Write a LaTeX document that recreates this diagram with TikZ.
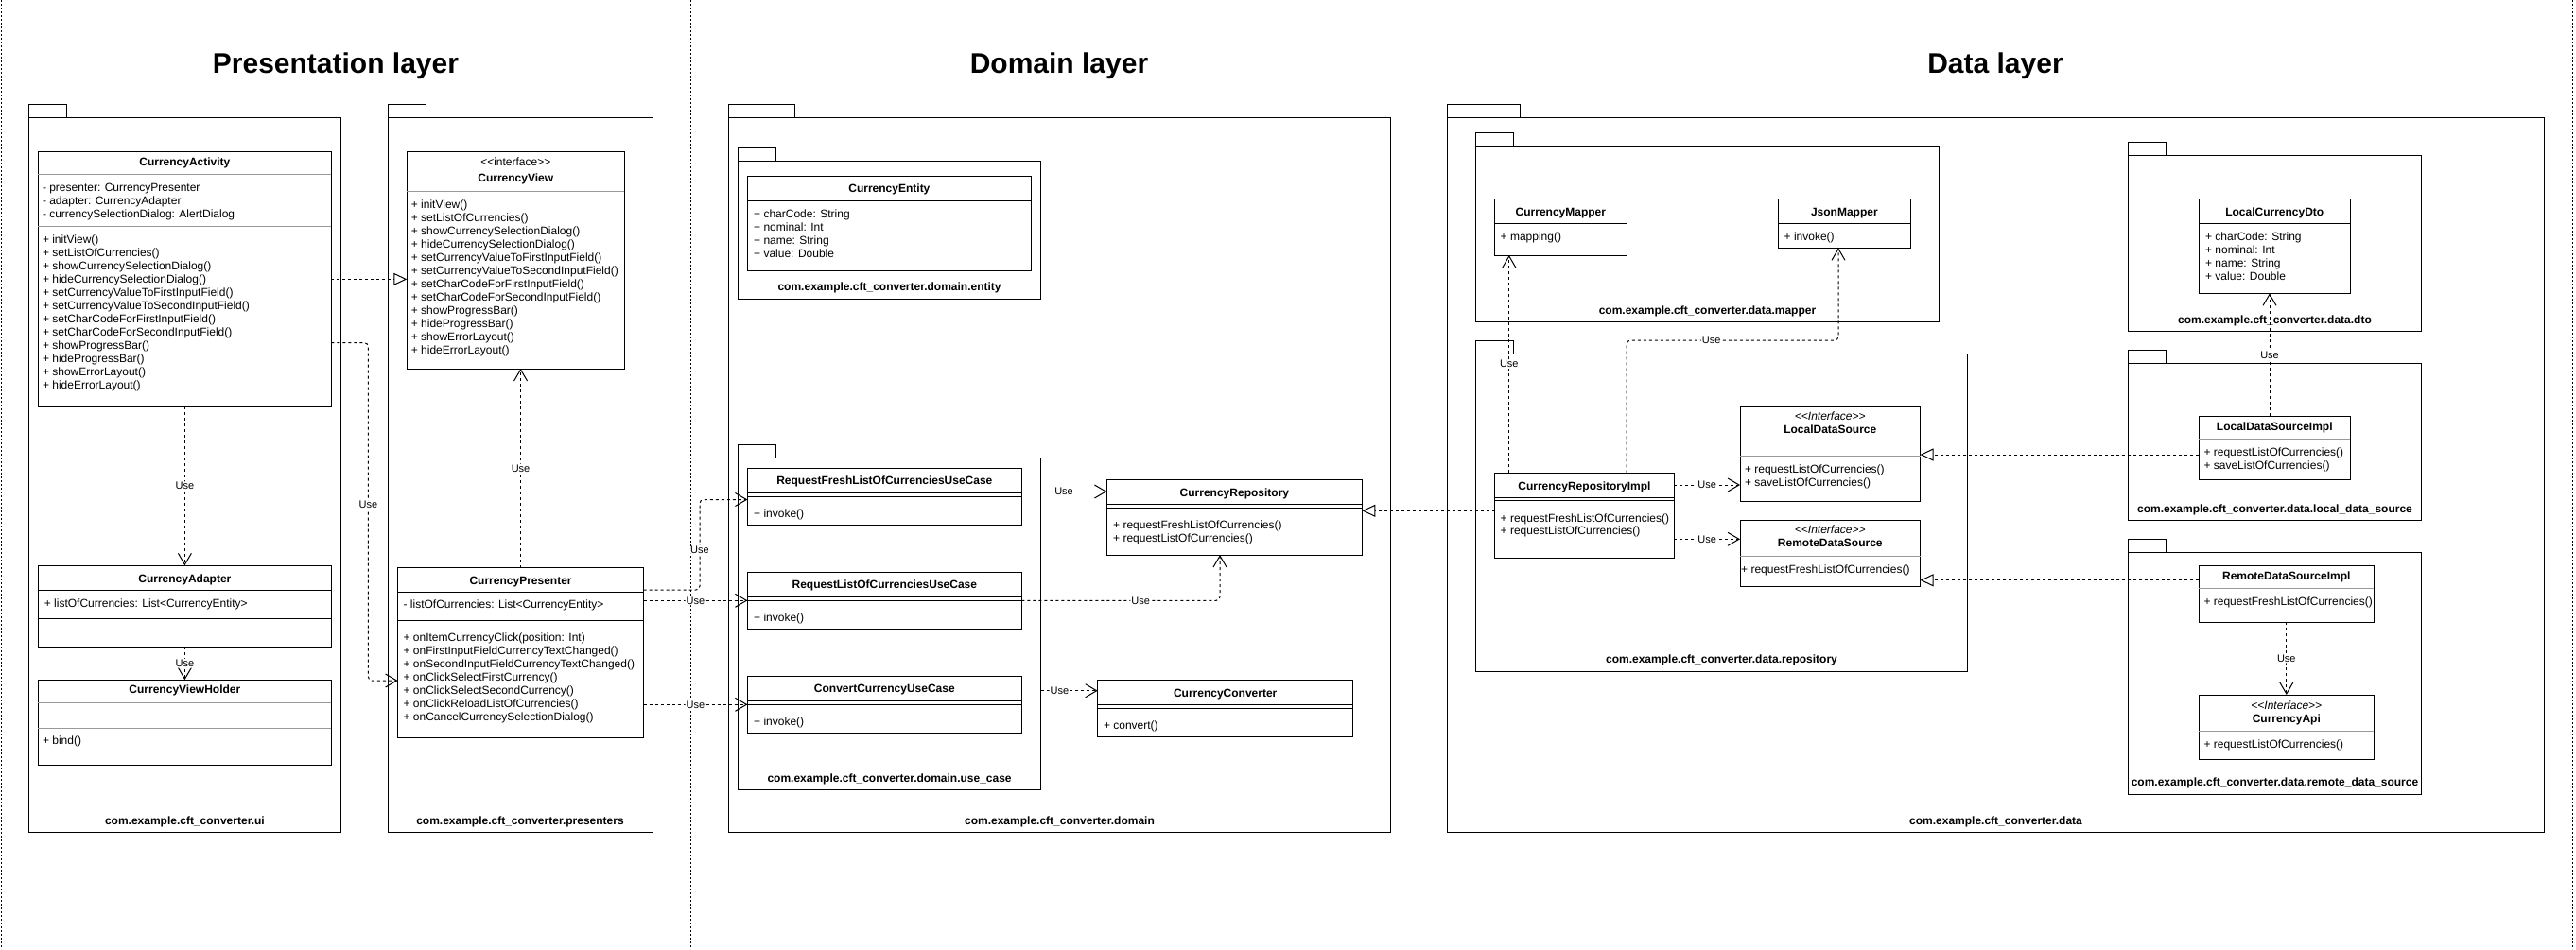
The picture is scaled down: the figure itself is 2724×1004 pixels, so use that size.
\documentclass[tikz,border=0pt]{standalone}
\usepackage{fontspec}
\setmainfont{Liberation Sans}[Ligatures=TeXOff]
\usetikzlibrary{arrows.meta}

\definecolor{sepgrey}{RGB}{153,153,153}

\newcommand{\viewmethods}{initView(),setListOfCurrencies(),%
  showCurrencySelectionDialog(),hideCurrencySelectionDialog(),%
  setCurrencyValueToFirstInputField(),setCurrencyValueToSecondInputField(),%
  setCharCodeForFirstInputField(),setCharCodeForSecondInputField(),%
  showProgressBar(),hideProgressBar(),showErrorLayout(),hideErrorLayout()}
\newcommand{\currencyfields}{charCode: String,nominal: Int,name: String,value: Double}

\tikzset{
  cls/.style 2 args={draw, anchor=north west, inner sep=0pt, outer sep=0pt,
    minimum width=#1, minimum height=#2},
  pkg/.style 2 args={cls={#1}{#2}},
  mem/.style={anchor=base west, inner sep=0pt, font=\fontsize{12}{14}\selectfont},
  ttl/.style={anchor=base, inner sep=0pt, font=\bfseries\fontsize{12}{14}\selectfont},
  stereo/.style={anchor=base, inner sep=0pt, font=\fontsize{12}{14}\selectfont},
  istereo/.style={stereo, font=\itshape\fontsize{12}{14}\selectfont},
  pkglbl/.style={ttl},
  layer/.style={anchor=base, inner sep=0pt, font=\bfseries\fontsize{30}{36}\selectfont},
  lbl/.style={fill=white, inner sep=1pt, font=\fontsize{11}{13}\selectfont},
  dep/.style={dash pattern=on 3pt off 3pt, rounded corners=4pt,
    -{Straight Barb[length=12pt, width=14pt]}},
  real/.style={dash pattern=on 3pt off 3pt,
    -{Triangle[open, length=14pt, width=13pt]}},
  sepline/.style={sepgrey},
  layerline/.style={dash pattern=on 2pt off 2pt}
}

\begin{document}
\begin{tikzpicture}[x=1pt, y=-1pt, line width=1pt]
  \fill[white] (0,0) rectangle (2724,1004);
  \useasboundingbox (0,0) rectangle (2724,1004);

  % layers
  \foreach \x in {1,730,1500,2720}
    \draw[layerline] (\x,0) -- (\x,1004);
  \node[layer] (tpres) at (355,77) {Presentation layer};
  \node[layer] (tdomain) at (1120,77) {Domain layer};
  \node[layer] (tdata) at (2110,77) {Data layer};

  % packages
  \node[pkg={330.2}{756}] (pkgui) at (30.3,124) {};
  \node[pkg={280}{756}] (pkgpres) at (410,124) {};
  \node[pkg={700}{756}] (pkgdomain) at (770.5,124) {};
  \node[pkg={319.9}{145.7}] (pkgentity) at (780.7,170.3) {};
  \node[pkg={319.9}{351.3}] (pkgusecase) at (780.7,484) {};
  \node[pkg={1160.3}{756.3}] (pkgdata) at (1530.3,124) {};
  \node[pkg={489.8}{186}] (pkgmapper) at (1560.6,154) {};
  \node[pkg={519.7}{335.7}] (pkgrepo) at (1560.6,374.3) {};
  \node[pkg={310.1}{185.7}] (pkgdto) at (2250.4,164.3) {};
  \node[pkg={310.1}{165.7}] (pkglocal) at (2250.4,384.3) {};
  \node[pkg={310.1}{255.7}] (pkgremote) at (2250.4,584.3) {};
  \foreach \p/\w in {pkgui/40,pkgpres/40.5,pkgdomain/70,pkgentity/40,pkgusecase/40,pkgdata/77,pkgmapper/40,pkgrepo/40,pkgdto/40,pkglocal/40,pkgremote/40}
    \draw (\p.north west) rectangle ++(\w,-14);

  \node[pkglbl] (lblui) at (195.4,872.2) {com.example.cft\_converter.ui};
  \node[pkglbl] (lblpres) at (550,872.2) {com.example.cft\_converter.presenters};
  \node[pkglbl] (lbldomain) at (1120.5,872.2) {com.example.cft\_converter.domain};
  \node[pkglbl] (lblentity) at (940.6,307.8) {com.example.cft\_converter.domain.entity};
  \node[pkglbl] (lblusecase) at (940.6,827.2) {com.example.cft\_converter.domain.use\_case};
  \node[pkglbl] (lbldata) at (2110.5,872.5) {com.example.cft\_converter.data};
  \node[pkglbl] (lblmapper) at (1805.5,332.5) {com.example.cft\_converter.data.mapper};
  \node[pkglbl] (lblrepo) at (1820.5,701.8) {com.example.cft\_converter.data.repository};
  \node[pkglbl] (lbldto) at (2405.5,342.2) {com.example.cft\_converter.data.dto};
  \node[pkglbl] (lbllocal) at (2405.5,542.2) {com.example.cft\_converter.data.local\_data\_source};
  \node[pkglbl] (lblremote) at (2405.5,831.8) {com.example.cft\_converter.data.remote\_data\_source};

  % presentation classes
  \node[cls={310}{269.3}] (activity) at (40.4,160.7) {};
  \draw[sepline] (40.4,184.3) -- ++(310,0) (40.4,239.3) -- ++(310,0);
  \node[ttl] (actname) at (195.4,175.2) {CurrencyActivity};
  \foreach \a [count=\i from 0] in {presenter: CurrencyPresenter,adapter: CurrencyAdapter,currencySelectionDialog: AlertDialog}
    \node[mem] (acta\i) at (44.5,202.2+14*\i) {- \a};
  \foreach \m [count=\i from 0] in \viewmethods
    \node[mem] (actm\i) at (44.5,257.2+14*\i) {+ \m};

  \node[cls={230}{229.3}] (view) at (430.3,160.7) {};
  \draw[sepline] (430.3,202.3) -- ++(230,0);
  \node[stereo] (viewst) at (545.3,175.2) {<<interface>>};
  \node[ttl] (viewname) at (545.3,192.8) {CurrencyView};
  \foreach \m [count=\i from 0] in \viewmethods
    \node[mem] (viewm\i) at (434.4,220.2+14*\i) {+ \m};

  \node[cls={310}{86}] (adapter) at (40.4,598.3) {};
  \draw (40.4,624.3) -- ++(310,0) (40.4,654.3) -- ++(310,0);
  \node[ttl] (adaptname) at (195.4,616.2) {CurrencyAdapter};
  \node[mem] (adapta0) at (46.4,642.5) {+ listOfCurrencies: List<CurrencyEntity>};

  \node[cls={310}{90}] (holder) at (40.4,719.3) {};
  \draw[sepline] (40.4,743.3) -- ++(310,0) (40.4,770.3) -- ++(310,0);
  \node[ttl] (holdname) at (195.4,733.8) {CurrencyViewHolder};
  \node[mem] (holdm0) at (44.5,787.8) {+ bind()};

  \node[cls={259.9}{179.3}] (presenter) at (420.6,600.7) {};
  \draw (420.6,626.3) -- ++(259.9,0) (420.6,656.3) -- ++(259.9,0);
  \node[ttl] (presname) at (550.6,618.2) {CurrencyPresenter};
  \node[mem] (presa0) at (426.1,643.8) {- listOfCurrencies: List<CurrencyEntity>};
  \foreach \m [count=\i from 0] in {onItemCurrencyClick(position: Int),%
      onFirstInputFieldCurrencyTextChanged(),onSecondInputFieldCurrencyTextChanged(),%
      onClickSelectFirstCurrency(),onClickSelectSecondCurrency(),%
      onClickReloadListOfCurrencies(),onCancelCurrencySelectionDialog()}
    \node[mem] (presm\i) at (426.1,678.2+14*\i) {+ \m};

  % domain classes
  \node[cls={300}{99.7}] (entity) at (790.4,186.3) {};
  \draw (790.4,212.3) -- ++(300,0);
  \node[ttl] (entname) at (940.4,203.8) {CurrencyEntity};
  \foreach \f [count=\i from 0] in \currencyfields
    \node[mem] (entf\i) at (796.7,230.2+14*\i) {+ \f};

  \foreach \n/\t/\y in {reqfresh/RequestFreshListOfCurrenciesUseCase/495.3,reqlist/RequestListOfCurrenciesUseCase/605.3,convert/ConvertCurrencyUseCase/715.3}{
    \node[cls={289.9}{60}] (\n) at (790.4,\y) {};
    \draw (790.4,\y+26.2) -- ++(289.9,0) (790.4,\y+30) -- ++(289.9,0);
    \node[ttl] (\n-t) at (935.35,\y+17.6) {\t};
    \node[mem] (\n-m) at (796.7,\y+51.9) {+ invoke()};
  }

  \node[cls={270}{79.7}] (repo) at (1170.4,507.3) {};
  \draw (1170.4,533.7) -- ++(270,0) (1170.4,537.3) -- ++(270,0);
  \node[ttl] (reponame) at (1305.4,525.2) {CurrencyRepository};
  \foreach \m [count=\i from 0] in {requestFreshListOfCurrencies(),requestListOfCurrencies()}
    \node[mem] (repom\i) at (1176.7,559.5+13.7*\i) {+ \m};

  \node[cls={270}{60}] (converter) at (1160.7,719.3) {};
  \draw (1160.7,745.3) -- ++(270,0) (1160.7,749.3) -- ++(270,0);
  \node[ttl] (convname) at (1295.7,737.2) {CurrencyConverter};
  \node[mem] (convm0) at (1166.5,771.2) {+ convert()};

  % data classes
  \node[cls={139.7}{59.7}] (cmapper) at (1580.5,210.3) {};
  \draw (1580.5,236.3) -- ++(139.7,0);
  \node[ttl] (cmapname) at (1650.35,228.2) {CurrencyMapper};
  \node[mem] (cmapm0) at (1586.2,254.2) {+ mapping()};

  \node[cls={139.7}{52}] (jmapper) at (1880.5,210.3) {};
  \draw (1880.5,236.3) -- ++(139.7,0);
  \node[ttl] (jmapname) at (1950.35,228.2) {JsonMapper};
  \node[mem] (jmapm0) at (1886.2,254.2) {+ invoke()};

  \node[cls={189.8}{89.7}] (repoimpl) at (1580.5,500.3) {};
  \draw (1580.5,526.3) -- ++(189.8,0) (1580.5,529.7) -- ++(189.8,0);
  \node[ttl] (implname) at (1675.4,518.2) {CurrencyRepositoryImpl};
  \foreach \m [count=\i from 0] in {requestFreshListOfCurrencies(),requestListOfCurrencies()}
    \node[mem] (implm\i) at (1586.2,552.2+13.6*\i) {+ \m};

  \node[cls={190.5}{99.7}] (localds) at (1840,430.3) {};
  \draw[sepline] (1840,482) -- ++(190.5,0);
  \node[istereo] (localst) at (1935.25,444.8) {<<Interface>>};
  \node[ttl] (localname) at (1935.25,458.8) {LocalDataSource};
  \foreach \m [count=\i from 0] in {requestListOfCurrencies(),saveListOfCurrencies()}
    \node[mem] (localm\i) at (1844.5,500.5+13.7*\i) {+ \m};

  \node[cls={190.5}{69.7}] (remoteds) at (1840,550.3) {};
  \draw[sepline] (1840,588.3) -- ++(190.5,0);
  \node[istereo] (remotest) at (1935.25,564.8) {<<Interface>>};
  \node[ttl] (remotename) at (1935.25,578.8) {RemoteDataSource};
  \node[mem] (remotem0) at (1840.7,606.2) {+ requestFreshListOfCurrencies()};

  \node[cls={159.9}{100}] (dto) at (2325.3,210.3) {};
  \draw (2325.3,236.3) -- ++(159.9,0);
  \node[ttl] (dtoname) at (2405.25,228.2) {LocalCurrencyDto};
  \foreach \f [count=\i from 0] in \currencyfields
    \node[mem] (dtof\i) at (2331.6,254.2+14*\i) {+ \f};

  \node[cls={159.9}{67}] (localimpl) at (2325.3,440.3) {};
  \draw[sepline] (2325.3,464) -- ++(159.9,0);
  \node[ttl] (limplname) at (2405.25,455.5) {LocalDataSourceImpl};
  \foreach \m [count=\i from 0] in {requestListOfCurrencies(),saveListOfCurrencies()}
    \node[mem] (limplm\i) at (2330,482.5+13.7*\i) {+ \m};

  \node[cls={185}{60}] (remoteimpl) at (2325.3,598.3) {};
  \draw[sepline] (2325.3,622) -- ++(185,0);
  \node[ttl] (rimplname) at (2417.8,613.5) {RemoteDataSourceImpl};
  \node[mem] (rimplm0) at (2330,640.2) {+ requestFreshListOfCurrencies()};

  \node[cls={185}{68.3}] (api) at (2325.3,735) {};
  \draw[sepline] (2325.3,773.3) -- ++(185,0);
  \node[istereo] (apist) at (2417.8,750.2) {<<Interface>>};
  \node[ttl] (apiname) at (2417.8,764.5) {CurrencyApi};
  \node[mem] (apim0) at (2330,791.2) {+ requestListOfCurrencies()};

  % connectors
  \draw[real] (activity.east) -- (activity.east -| view.west);
  \draw[dep] (activity.south) -- node[lbl] (use1) {Use} (adapter.north);
  \draw[dep] (adapter.south) -- node[lbl] (use2) {Use} (holder.north);
  \draw[dep] (activity.east |- 0,362.7) -- (389.4,362.7) -- node[lbl, pos=.48] (use3) {Use} (389.4,720) -- (presenter.west |- 0,720);
  \draw[dep] (presenter.north) -- node[lbl] (use4) {Use} (presenter.north |- view.south);
  \draw[dep] (presenter.east |- 0,624) -- (740,624) -- node[lbl, pos=.44] (use5) {Use} (740,528.5) -- (reqfresh.west |- 0,528.5);
  \draw[dep] (presenter.east |- reqlist.west) -- node[lbl] (use6) {Use} (reqlist.west);
  \draw[dep] (presenter.east |- convert.west) -- node[lbl] (use7) {Use} (convert.west);
  \draw[dep] (pkgusecase.east |- 0,520) -- node[lbl, pos=.35] (use8) {Use} (repo.west |- 0,520);
  \draw[dep] (reqlist.east) -- node[lbl, pos=.6] (use9) {Use} (1290,635.3) -- (repo.south -| 1290,0);
  \draw[dep] (pkgusecase.east |- 0,730.7) -- node[lbl, pos=.33] (use10) {Use} (converter.west |- 0,730.7);
  \draw[real] (repoimpl.west |- 0,540.3) -- (repo.east |- 0,540.3);
  \draw[dep] (repoimpl.north -| 1595.8,0) -- node[lbl] (use11) {Use} (cmapper.south -| 1595.8,0);
  \draw[dep] (repoimpl.north -| 1720.2,0) -- (1720.2,360) -- node[lbl, pos=.4] (use12) {Use} (1944,360) -- (jmapper.south -| 1944,0);
  \draw[dep] (repoimpl.east |- 0,513) -- node[lbl] (use13) {Use} (localds.west |- 0,513);
  \draw[dep] (repoimpl.east |- 0,570.3) -- node[lbl] (use14) {Use} (remoteds.west |- 0,570.3);
  \draw[real] (localimpl.west |- 0,481) -- (localds.east |- 0,481);
  \draw[real] (remoteimpl.west |- 0,613.8) -- (remoteds.east |- 0,613.8);
  \draw[dep] (localimpl.north -| 2400,0) -- node[lbl] (use15) {Use} (dto.south -| 2400,0);
  \draw[dep] (remoteimpl.south) -- node[lbl] (use16) {Use} (api.north);
\end{tikzpicture}
\end{document}
